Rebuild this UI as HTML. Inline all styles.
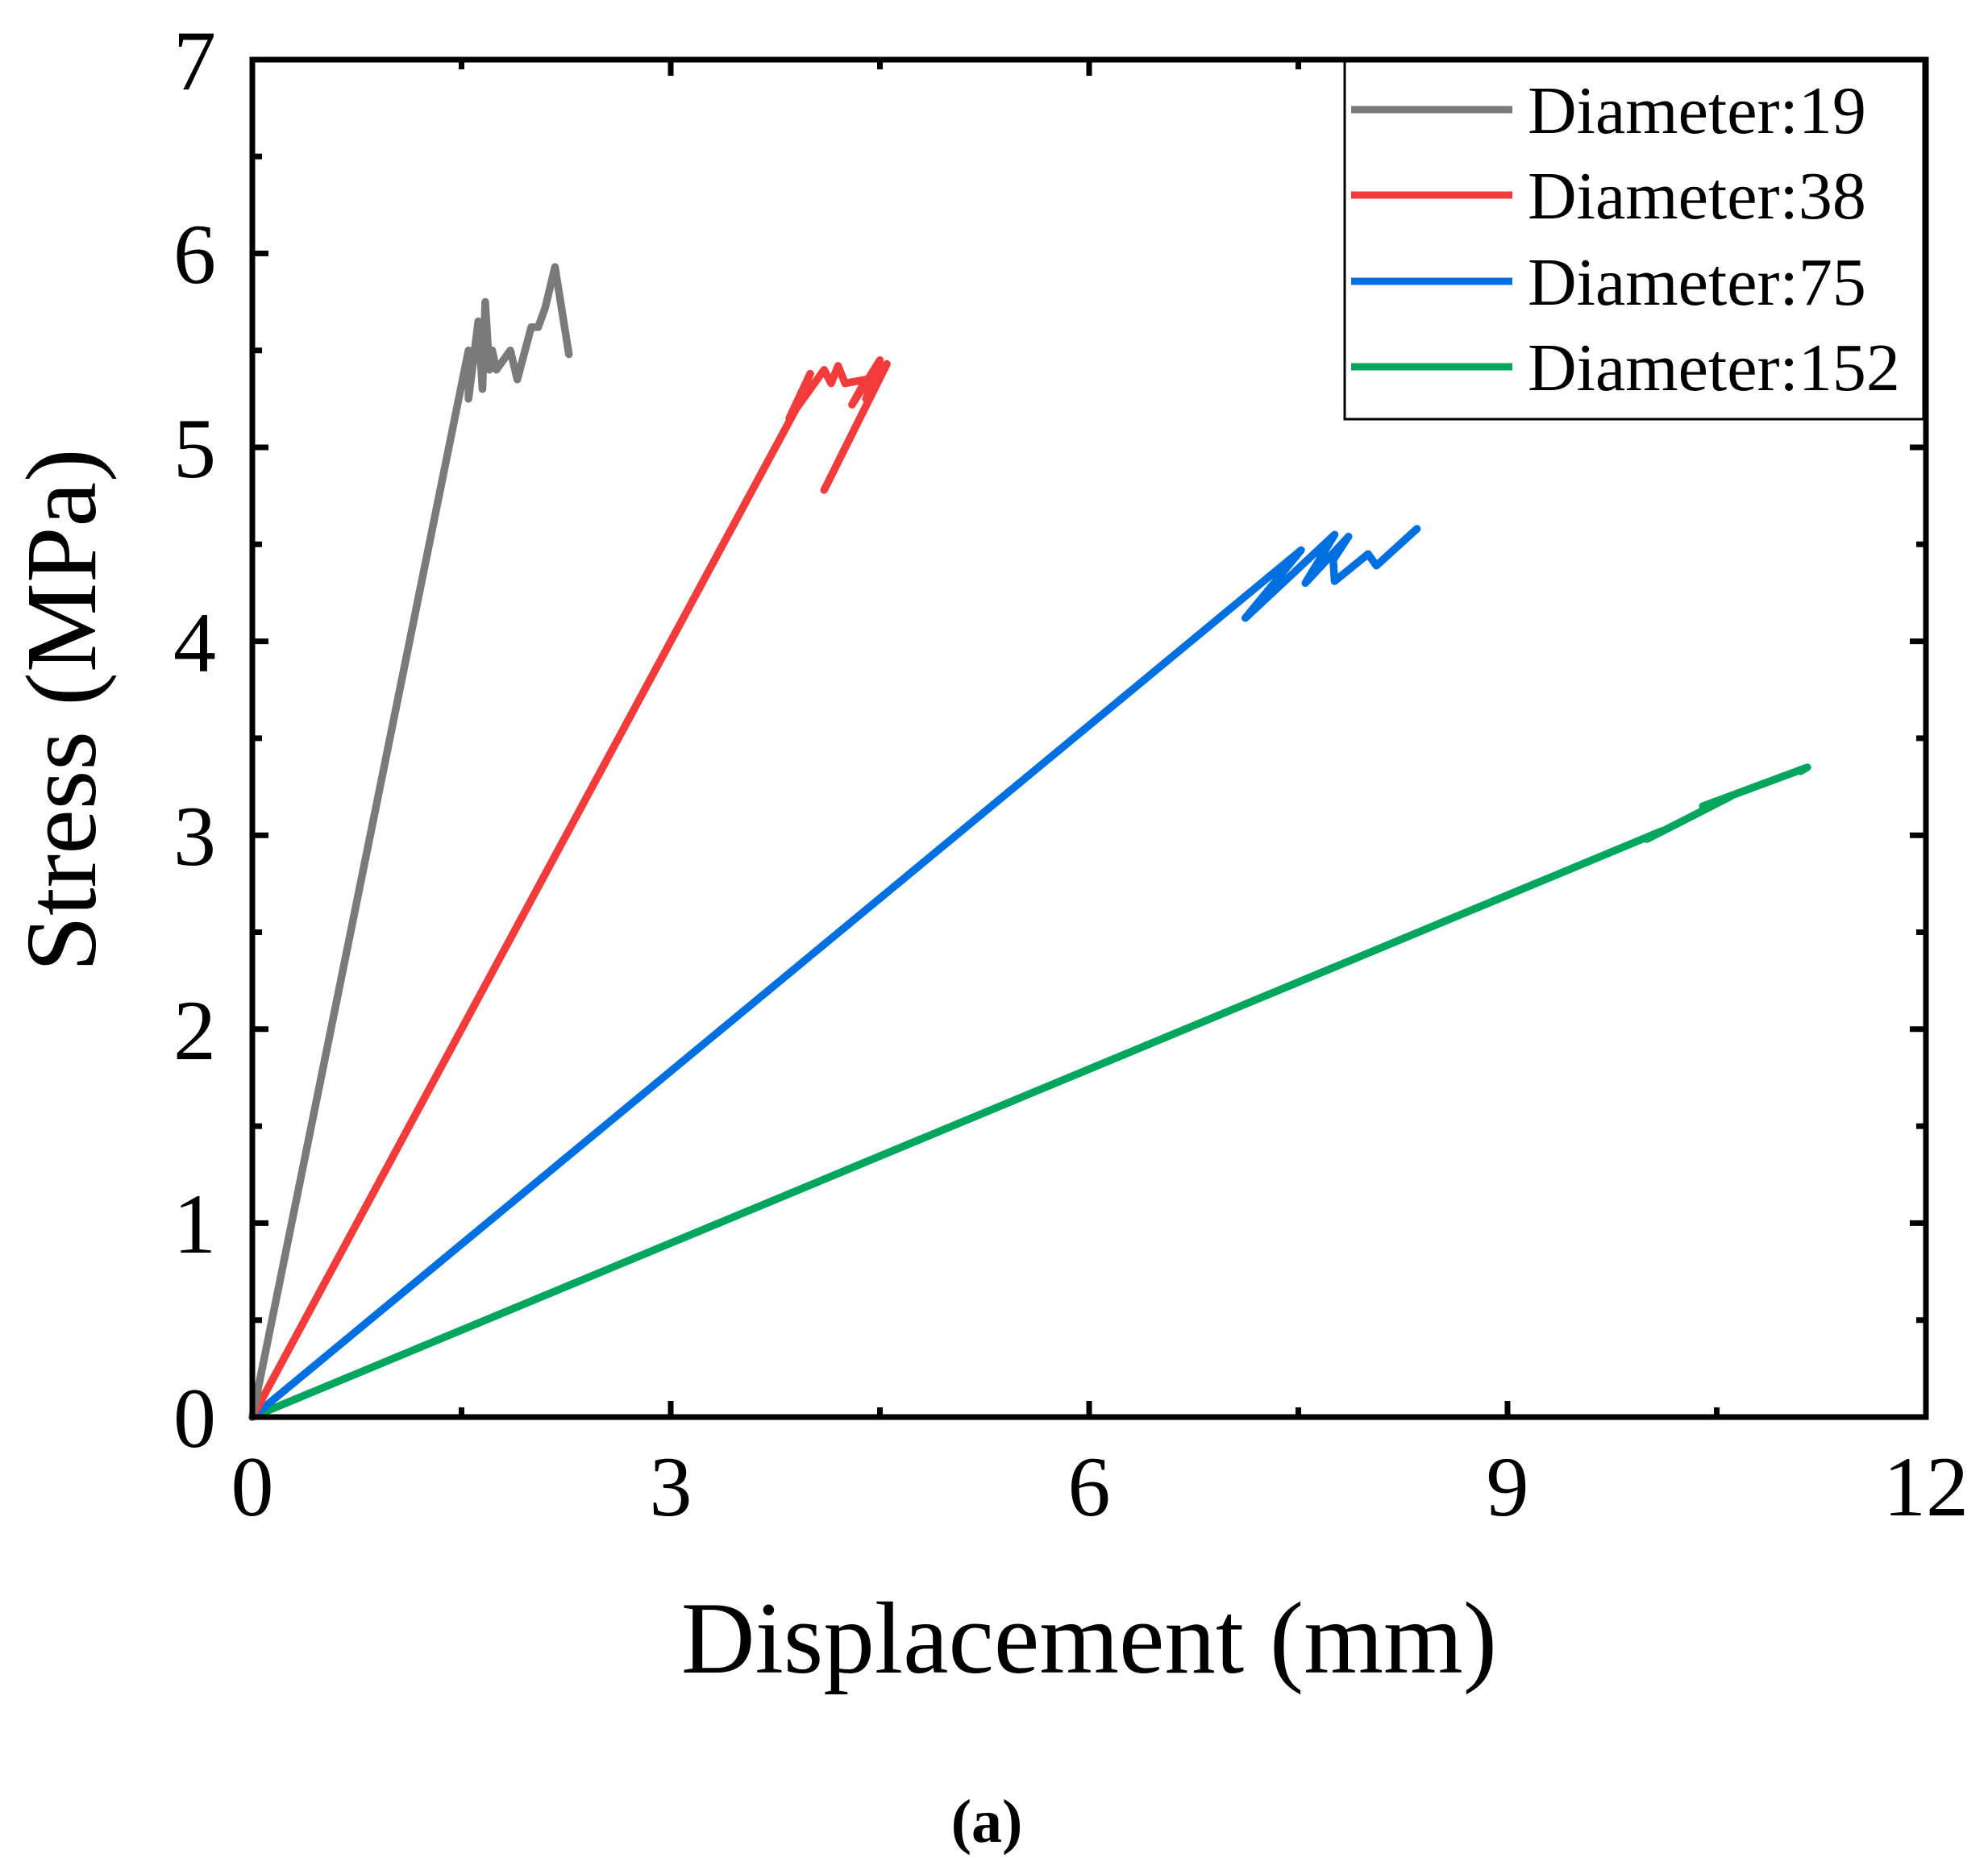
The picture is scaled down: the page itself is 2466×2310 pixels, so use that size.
<!DOCTYPE html>
<html><head><meta charset="utf-8"><style>
html,body{margin:0;padding:0;background:#fff}
svg{display:block}
text{font-family:"Liberation Serif",serif;fill:#000}
</style></head><body>
<svg width="2466" height="2310" viewBox="0 0 2466 2310" xmlns="http://www.w3.org/2000/svg">
<rect width="2466" height="2310" fill="#fff"/>
<g transform="translate(313,1758) scale(173,-240.6)" fill="none" stroke-width="9.5" stroke-linejoin="round" stroke-linecap="round">
<polyline vector-effect="non-scaling-stroke" stroke="#00A65E" points="0,0 10.1,3.02 10.0,2.98 10.6,3.2 10.4,3.15 11.15,3.35 11.1,3.33"/>
<polyline vector-effect="non-scaling-stroke" stroke="#0070E0" points="0,0 7.52,4.47 7.12,4.12 7.76,4.55 7.55,4.30 7.86,4.54 7.75,4.42 7.76,4.31 8.0,4.45 8.06,4.39 8.35,4.58"/>
<polyline vector-effect="non-scaling-stroke" stroke="#F23C3C" points="0,0 3.9,5.2 4.0,5.38 3.85,5.15 4.1,5.4 4.15,5.33 4.2,5.42 4.25,5.33 4.4,5.35 4.3,5.22 4.5,5.45 4.4,5.25 4.55,5.43 4.1,4.78"/>
<polyline vector-effect="non-scaling-stroke" stroke="#7A7A7A" points="0,0 1.55,5.5 1.55,5.25 1.62,5.65 1.65,5.3 1.67,5.75 1.7,5.4 1.72,5.5 1.75,5.4 1.85,5.5 1.9,5.35 2.0,5.62 2.05,5.62 2.1,5.72 2.17,5.93 2.27,5.48"/>
</g>
<g stroke="#000" stroke-width="7" fill="none">
<rect x="313" y="74" width="2076" height="1684"/>
<path d="M313 1758h20M313 1517.4h20M313 1276.8h20M313 1036.2h20M313 795.6h20M313 555h20M313 314.4h20
M313 1637.7h12M313 1397.1h12M313 1156.5h12M313 915.9h12M313 675.3h12M313 434.7h12M313 194.1h12
M2389 1758h-20M2389 1517.4h-20M2389 1276.8h-20M2389 1036.2h-20M2389 795.6h-20M2389 555h-20M2389 314.4h-20
M2389 1637.7h-12M2389 1397.1h-12M2389 1156.5h-12M2389 915.9h-12M2389 675.3h-12M2389 434.7h-12M2389 194.1h-12"/>
<path d="M832 1758v-20M1351 1758v-20M1870 1758v-20M572.5 1758v-12M1091.5 1758v-12M1610.5 1758v-12M2129.5 1758v-12
M832 74v20M1351 74v20M1870 74v20M572.5 74v12M1091.5 74v12M1610.5 74v12M2129.5 74v12"/>
</g>
<g font-size="106" text-anchor="end">
<text x="268" y="1795">0</text><text x="268" y="1554">1</text><text x="268" y="1314">2</text><text x="268" y="1073">3</text><text x="268" y="833">4</text><text x="268" y="592">5</text><text x="268" y="351">6</text><text x="268" y="111">7</text>
</g>
<g font-size="106" text-anchor="middle">
<text x="313" y="1880">0</text><text x="832" y="1880">3</text><text x="1351" y="1880">6</text><text x="1870" y="1880">9</text><text x="2389" y="1880">12</text>
</g>
<text x="1351" y="2075" font-size="127" text-anchor="middle">Displacement (mm)</text>
<text transform="translate(118,881) rotate(-90)" font-size="125" text-anchor="middle">Stress (MPa)</text>
<text x="1224" y="2285" font-size="76" font-weight="bold" text-anchor="middle">(a)</text>
<rect x="1668" y="76" width="718" height="444" fill="#fff" stroke="#000" stroke-width="3"/>
<g stroke-width="9">
<line x1="1676" y1="136" x2="1876" y2="136" stroke="#7A7A7A"/>
<line x1="1676" y1="242" x2="1876" y2="242" stroke="#F23C3C"/>
<line x1="1676" y1="349" x2="1876" y2="349" stroke="#0070E0"/>
<line x1="1676" y1="455" x2="1876" y2="455" stroke="#00A65E"/>
</g>
<g font-size="84">
<text x="1895" y="165">Diameter:19</text>
<text x="1895" y="271">Diameter:38</text>
<text x="1895" y="378">Diameter:75</text>
<text x="1895" y="484">Diameter:152</text>
</g>
</svg>
</body></html>
